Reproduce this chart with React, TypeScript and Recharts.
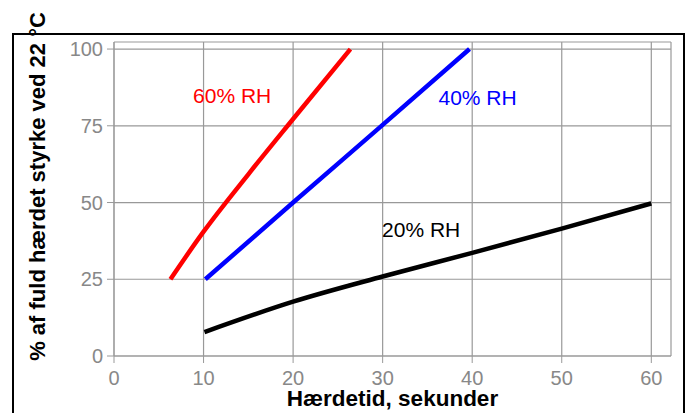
import React from "react";
import {
  CartesianGrid,
  Label,
  Line,
  LineChart,
  ReferenceDot,
  XAxis,
  YAxis
} from "recharts";

// hardening time (s) -> % of full hardened strength at 22 °C
const rh60 = [
  { x: 6.3, y: 25 },
  { x: 10, y: 40.5 },
  { x: 15, y: 59.2 },
  { x: 20, y: 77.2 },
  { x: 26.4, y: 100 }
];

const rh40 = [
  { x: 10.2, y: 25 },
  { x: 20, y: 50 },
  { x: 30, y: 75.3 },
  { x: 39.7, y: 100 }
];

const rh20 = [
  { x: 10.1, y: 7.8 },
  { x: 20, y: 17.7 },
  { x: 30, y: 25.9 },
  { x: 40, y: 33.6 },
  { x: 50, y: 41.5 },
  { x: 60, y: 49.7 }
];

const xTicks = [0, 10, 20, 30, 40, 50, 60];
const yTicks = [0, 25, 50, 75, 100];

const seriesLabels = [
  { text: "60% RH", x: 13.2, y: 85, color: "#ff0000" },
  { text: "40% RH", x: 40.6, y: 84.2, color: "#0000ff" },
  { text: "20% RH", x: 34.3, y: 41.2, color: "#000000" }
];

const xTitle = "Hærdetid, sekunder";
const yTitle = "% af fuld hærdet styrke ved 22 °C";

const gridColor = "#999999";
const tickStyle = { fill: "#888888", fontSize: 20 };

function XTitle(props: any) {
  const { viewBox } = props;
  return (
    <text
      x={viewBox.x + viewBox.width / 2}
      y={viewBox.y + 50}
      textAnchor="middle"
      fontSize={22.5}
      fontWeight="bold"
      fill="#000"
    >
      {xTitle}
    </text>
  );
}

function YTitle() {
  return (
    <text
      x={37}
      y={186.5}
      transform="rotate(-90 37 186.5)"
      textAnchor="middle"
      dominantBaseline="central"
      fontSize={22}
      fontWeight="bold"
      fill="#000"
    >
      {yTitle}
    </text>
  );
}

export default function App() {
  return (
    <div
      style={{
        position: "absolute",
        left: 0,
        top: 0,
        width: 688,
        height: 413,
        overflow: "hidden",
        background: "#fff",
        fontFamily: "'Liberation Sans', Arial, sans-serif"
      }}
    >
      <div
        style={{
          position: "absolute",
          left: 12,
          top: 33,
          width: 669,
          height: 420,
          border: "2px solid #000"
        }}
      />
      <div style={{ position: "absolute", left: 0, top: 0 }}>
        <LineChart
          width={688}
          height={413}
          margin={{ top: 42, right: 17, bottom: 0, left: 0 }}
        >
          <CartesianGrid stroke={gridColor} strokeWidth={1.2} />
          <XAxis
            type="number"
            dataKey="x"
            domain={[0, 62.2]}
            ticks={xTicks}
            allowDataOverflow
            height={57}
            stroke={gridColor}
            tickSize={7}
            tickMargin={8}
            tick={tickStyle}
          >
            <Label content={XTitle} />
          </XAxis>
          <YAxis
            type="number"
            dataKey="y"
            domain={[0, 102.3]}
            ticks={yTicks}
            allowDataOverflow
            width={114}
            stroke={gridColor}
            tickSize={7}
            tickMargin={4}
            tick={tickStyle}
          >
            <Label content={YTitle} />
          </YAxis>
          <Line
            data={rh60}
            dataKey="y"
            type="monotone"
            stroke="#ff0000"
            strokeWidth={4.5}
            dot={false}
            isAnimationActive={false}
          />
          <Line
            data={rh40}
            dataKey="y"
            type="monotone"
            stroke="#0000ff"
            strokeWidth={4.5}
            dot={false}
            isAnimationActive={false}
          />
          <Line
            data={rh20}
            dataKey="y"
            type="monotone"
            stroke="#000000"
            strokeWidth={4.5}
            dot={false}
            isAnimationActive={false}
          />
          {seriesLabels.map((l) => (
            <ReferenceDot
              key={l.text}
              x={l.x}
              y={l.y}
              r={0}
              fill="none"
              stroke="none"
              label={{
                value: l.text,
                position: "center",
                fill: l.color,
                fontSize: 21
              }}
            />
          ))}
        </LineChart>
      </div>
    </div>
  );
}
